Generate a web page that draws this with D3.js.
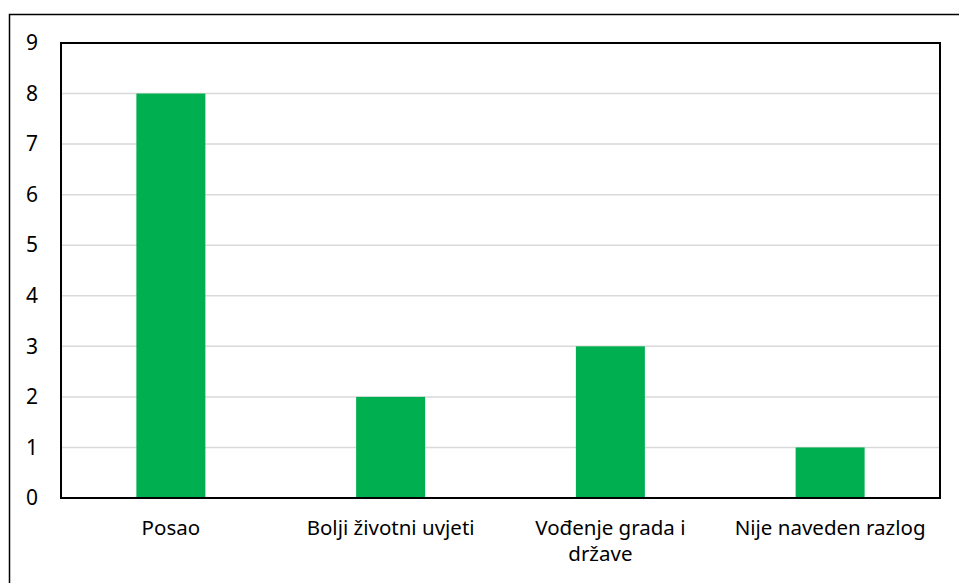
<!DOCTYPE html>
<html>
<head>
<meta charset="utf-8">
<script src="https://cdn.jsdelivr.net/npm/d3@7"></script>
<style>
  body { margin: 0; background: #fff; }
  text { font-family: "Noto Sans", "Open Sans", sans-serif; fill: #000; }
</style>
</head>
<body>
<div id="chart"></div>
<script>
// chart data
const categories = ["Posao", "Bolji životni uvjeti", "Vođenje grada i države", "Nije naveden razlog"];
const values = [8, 2, 3, 1];
const yTicks = [0, 1, 2, 3, 4, 5, 6, 7, 8, 9];

const width = 959;
const height = 583;
const margin = { top: 43, right: 19, bottom: 85, left: 61 };

const svg = d3.select('#chart')
  .append('svg')
  .attr('width', width)
  .attr('height', height);

// outer chart border (runs off the right and bottom edge)
svg.append('rect')
  .attr('x', 9.5)
  .attr('y', 14.5)
  .attr('width', width + 10)
  .attr('height', height + 10)
  .attr('fill', 'none')
  .attr('stroke', '#000')
  .attr('stroke-width', 1.5);

// scales
const x = d3.scaleBand()
  .domain(categories)
  .range([margin.left, width - margin.right])
  .paddingInner(0.686)
  .paddingOuter(0.343);

const y = d3.scaleLinear()
  .domain([0, 9])
  .range([height - margin.bottom, margin.top]);

// gridlines
svg.append('g')
  .selectAll('line')
  .data(yTicks.slice(1))
  .enter()
  .append('line')
  .attr('x1', margin.left)
  .attr('x2', width - margin.right)
  .attr('y1', d => y(d))
  .attr('y2', d => y(d))
  .attr('stroke', '#d9d9d9')
  .attr('stroke-width', 1.5);

// bars
svg.append('g')
  .selectAll('rect')
  .data(values)
  .enter()
  .append('rect')
  .attr('x', (d, i) => x(categories[i]))
  .attr('y', d => y(d))
  .attr('width', x.bandwidth())
  .attr('height', d => y(0) - y(d))
  .attr('fill', '#00b050');

// plot area border
svg.append('rect')
  .attr('x', margin.left)
  .attr('y', margin.top)
  .attr('width', width - margin.left - margin.right)
  .attr('height', height - margin.top - margin.bottom)
  .attr('fill', 'none')
  .attr('stroke', '#000')
  .attr('stroke-width', 2);

// y axis labels
const yAxis = d3.axisLeft(y)
  .tickValues(yTicks)
  .tickSize(0)
  .tickPadding(23);

const yG = svg.append('g')
  .attr('transform', `translate(${margin.left},0)`)
  .call(yAxis)
  .call(g => g.select('.domain').remove());
yG.attr('font-size', null).attr('font-family', null);
yG.selectAll('text')
  .style('font-size', '21px')
  .style('font-family', '"Noto Sans", sans-serif');

// x axis labels
const xAxis = d3.axisBottom(x)
  .tickSize(0)
  .tickPadding(22);

const xG = svg.append('g')
  .attr('transform', `translate(0,${height - margin.bottom})`)
  .call(xAxis)
  .call(g => g.select('.domain').remove());
xG.attr('font-size', null).attr('font-family', null);
xG.selectAll('text')
  .style('font-size', '20.5px')
  .style('font-family', '"Noto Sans", sans-serif')
  .call(wrap, 205);

// wrap long category labels into lines
function wrap(texts, maxWidth) {
  texts.each(function () {
    const text = d3.select(this);
    const words = text.text().split(/\s+/);
    const yPos = text.attr('y');
    const dy = parseFloat(text.attr('dy'));
    let line = [];
    let lineNo = 0;
    let tspan = text.text(null).append('tspan').attr('x', 0).attr('y', yPos).attr('dy', dy + 'em');
    words.forEach(word => {
      line.push(word);
      tspan.text(line.join(' '));
      if (tspan.node().getComputedTextLength() > maxWidth && line.length > 1) {
        line.pop();
        tspan.text(line.join(' '));
        line = [word];
        lineNo++;
        tspan = text.append('tspan').attr('x', -10).attr('y', yPos)
          .attr('dy', (dy + lineNo * 1.3) + 'em').text(word);
      }
    });
  });
}
</script>
</body>
</html>
